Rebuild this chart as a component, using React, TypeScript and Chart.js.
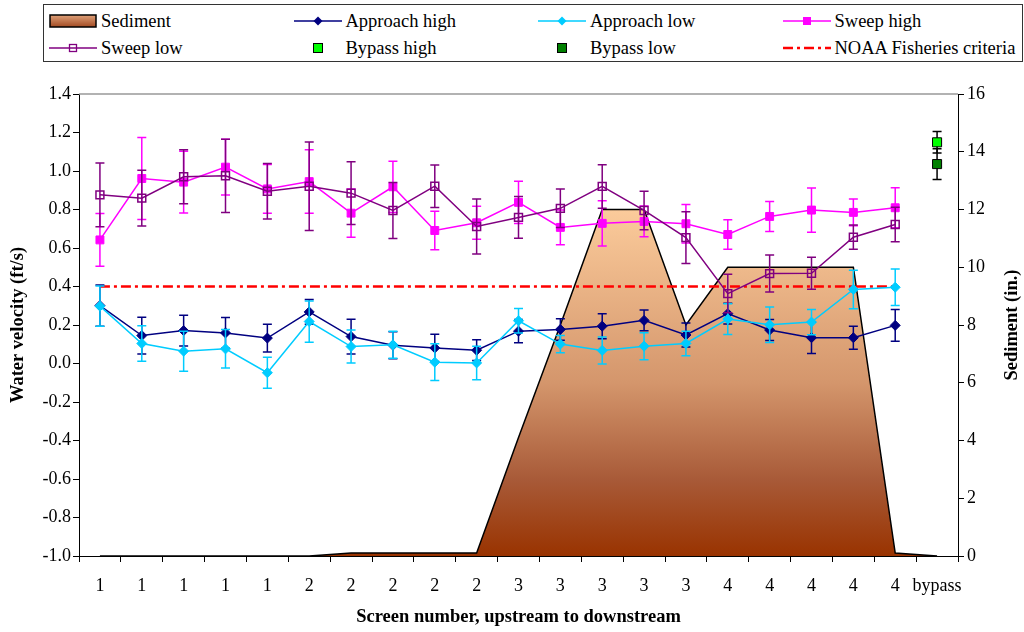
import { useEffect, useRef } from 'react';
import { Chart, registerables } from 'chart.js';

Chart.register(...registerables);

// Screen positions, upstream to downstream
const categories = ['1', '1', '1', '1', '1', '2', '2', '2', '2', '2', '3', '3', '3', '3', '3', '4', '4', '4', '4', '4', 'bypass'];

// Sediment depth (in.), right axis
const sediment = [0, 0, 0, 0, 0, 0, 0.1, 0.1, 0.1, 0.1, 4.1, 8, 12, 12, 8, 10, 10, 10, 10, 0.1, 0];

// Water velocities (ft/s) and their error bar half-widths
const approachHigh = [0.301, 0.145, 0.171, 0.159, 0.132, 0.268, 0.14, 0.095, 0.081, 0.069, 0.168, 0.177, 0.194, 0.224, 0.148, 0.259, 0.174, 0.134, 0.134, 0.198, null];
const approachHighErr = [0.107, 0.095, 0.08, 0.08, 0.072, 0.064, 0.09, 0.07, 0.071, 0.054, 0.06, 0.056, 0.065, 0.054, 0.062, 0.054, 0.054, 0.082, 0.06, 0.082, null];

const approachLow = [0.298, 0.104, 0.064, 0.076, -0.048, 0.218, 0.088, 0.097, 0.007, 0.003, 0.222, 0.101, 0.068, 0.09, 0.104, 0.231, 0.201, 0.215, 0.385, 0.396, null];
const approachLowErr = [0.104, 0.092, 0.104, 0.1, 0.081, 0.107, 0.086, 0.07, 0.095, 0.087, 0.064, 0.045, 0.07, 0.07, 0.064, 0.08, 0.092, 0.066, 0.1, 0.095, null];

const sweepHigh = [0.642, 0.961, 0.942, 1.02, 0.907, 0.945, 0.781, 0.918, 0.691, 0.731, 0.837, 0.707, 0.728, 0.738, 0.726, 0.67, 0.764, 0.797, 0.785, 0.809, null];
const sweepHighErr = [0.137, 0.213, 0.16, 0.145, 0.127, 0.165, 0.125, 0.133, 0.1, 0.086, 0.11, 0.09, 0.117, 0.08, 0.1, 0.077, 0.078, 0.115, 0.07, 0.104, null];

const sweepLow = [0.876, 0.859, 0.97, 0.975, 0.895, 0.921, 0.885, 0.795, 0.921, 0.712, 0.759, 0.806, 0.92, 0.795, 0.654, 0.363, 0.467, 0.469, 0.656, 0.722, null];
const sweepLowErr = [0.165, 0.145, 0.14, 0.19, 0.144, 0.23, 0.163, 0.145, 0.11, 0.143, 0.108, 0.1, 0.113, 0.1, 0.134, 0.1, 0.096, 0.083, 0.063, 0.09, null];

const bypassHigh = 1.149;
const bypassHighErr = 0.056;
const bypassLow = 1.036;
const bypassLowErr = 0.08;

const noaaCriteria = 0.4;

const FONT = '"Liberation Serif", "Times New Roman", serif';

const onlyBypass = (v: number) => categories.map((c) => (c === 'bypass' ? v : null));

const errorBarPlugin = {
  id: 'errorBars',
  beforeDatasetDraw(chart: any, args: any) {
    const ds = chart.data.datasets[args.index];
    if (!ds.errors) return;
    const meta = args.meta;
    const yScale = chart.scales[meta.yAxisID];
    const ctx = chart.ctx;
    ctx.save();
    ctx.strokeStyle = ds.errorColor || ds.borderColor;
    ctx.lineWidth = 1.5;
    ds.data.forEach((v: number | null, i: number) => {
      const e = ds.errors[i];
      if (v == null || e == null) return;
      const x = meta.data[i].x;
      const yt = yScale.getPixelForValue(v + e);
      const yb = yScale.getPixelForValue(v - e);
      ctx.beginPath();
      ctx.moveTo(x, yt);
      ctx.lineTo(x, yb);
      ctx.moveTo(x - 4.5, yt);
      ctx.lineTo(x + 4.5, yt);
      ctx.moveTo(x - 4.5, yb);
      ctx.lineTo(x + 4.5, yb);
      ctx.stroke();
    });
    ctx.restore();
  },
};

const framePlugin = {
  id: 'frame',
  beforeDatasetsDraw(chart: any) {
    const { ctx, chartArea } = chart;
    ctx.save();
    ctx.strokeStyle = '#999';
    ctx.lineWidth = 1.5;
    ctx.beginPath();
    ctx.moveTo(chartArea.left, chartArea.top);
    ctx.lineTo(chartArea.right, chartArea.top);
    ctx.stroke();
    ctx.restore();
  },
  afterDraw(chart: any) {
    const { ctx, chartArea } = chart;
    ctx.save();
    ctx.translate(1012, (chartArea.top + chartArea.bottom) / 2);
    ctx.rotate(-Math.PI / 2);
    ctx.font = `bold 18.5px ${FONT}`;
    ctx.fillStyle = '#000';
    ctx.textAlign = 'center';
    ctx.textBaseline = 'middle';
    ctx.fillText('Sediment (in.)', 0, 0);
    ctx.restore();
  },
};

const sedimentFill = (context: any) => {
  const chart = context.chart;
  const y2 = chart.scales.y2;
  if (!chart.chartArea || !y2) return '#D4966C';
  const top = y2.getPixelForValue(Math.max(...sediment));
  const bottom = y2.getPixelForValue(0);
  const g = chart.ctx.createLinearGradient(0, top, 0, bottom);
  g.addColorStop(0, '#FBCB9B');
  g.addColorStop(0.5, '#D4966C');
  g.addColorStop(0.78, '#A85A38');
  g.addColorStop(1, '#993300');
  return g;
};

type LegendItem = { label: string; kind: string; color?: string; col: number; row: number };

const legendItems: LegendItem[] = [
  { label: 'Sediment', kind: 'area', col: 0, row: 0 },
  { label: 'Approach high', kind: 'diamond', color: '#000080', col: 1, row: 0 },
  { label: 'Approach low', kind: 'diamond', color: '#00CCFF', col: 2, row: 0 },
  { label: 'Sweep high', kind: 'square', color: '#FF00FF', col: 3, row: 0 },
  { label: 'Sweep low', kind: 'open', color: '#800080', col: 0, row: 1 },
  { label: 'Bypass high', kind: 'point', color: '#00FF00', col: 1, row: 1 },
  { label: 'Bypass low', kind: 'point', color: '#008000', col: 2, row: 1 },
  { label: 'NOAA Fisheries criteria', kind: 'dash', color: '#FF0000', col: 3, row: 1 },
];

const Glyph = ({ item }: { item: LegendItem }) => {
  const c = item.color;
  return (
    <svg width={48} height={16} style={{ display: 'block' }}>
      <defs>
        <linearGradient id="sedGrad" x1="0" y1="0" x2="0" y2="1">
          <stop offset="0" stopColor="#E0A27A" />
          <stop offset="1" stopColor="#A24A22" />
        </linearGradient>
      </defs>
      {item.kind === 'area' && <rect x={1} y={2} width={46} height={12} fill="url(#sedGrad)" stroke="#000" strokeWidth={1.5} />}
      {['diamond', 'square', 'open'].includes(item.kind) && <line x1={0} y1={8} x2={48} y2={8} stroke={c} strokeWidth={1.5} />}
      {item.kind === 'diamond' && <polygon points="24,3.5 28.5,8 24,12.5 19.5,8" fill={c} />}
      {item.kind === 'square' && <rect x={20} y={4} width={8} height={8} fill={c} />}
      {item.kind === 'open' && <rect x={20.5} y={4.5} width={7} height={7} fill="none" stroke={c} strokeWidth={1.3} />}
      {item.kind === 'point' && <rect x={19.5} y={3.5} width={9} height={9} fill={c} stroke="#000" strokeWidth={1} />}
      {item.kind === 'dash' && <line x1={0} y1={8} x2={48} y2={8} stroke={c} strokeWidth={2.5} strokeDasharray="10 4 3 4" />}
    </svg>
  );
};

const App = () => {
  const canvasRef = useRef<HTMLCanvasElement | null>(null);
  const chartRef = useRef<Chart | null>(null);

  useEffect(() => {
    if (!canvasRef.current) return;
    if (chartRef.current) chartRef.current.destroy();

    Chart.defaults.font.family = FONT;
    Chart.defaults.color = '#000';

    const seriesLine = (label: string, data: any[], errors: any[], color: string, extra: any) => ({
      type: 'line' as const,
      label,
      data,
      errors,
      borderColor: color,
      backgroundColor: color,
      borderWidth: 1.5,
      pointBackgroundColor: color,
      pointBorderColor: color,
      pointBorderWidth: 1,
      yAxisID: 'y',
      order: 0,
      ...extra,
    });

    const config: any = {
      type: 'line',
      data: {
        labels: categories,
        datasets: [
          {
            label: 'Sediment',
            data: sediment,
            yAxisID: 'y2',
            fill: 'start',
            backgroundColor: sedimentFill,
            borderColor: '#000',
            borderWidth: 1.5,
            pointRadius: 0,
            order: 10,
          },
          {
            label: 'NOAA Fisheries criteria',
            data: categories.map((c) => (c === 'bypass' ? null : noaaCriteria)),
            yAxisID: 'y',
            borderColor: '#FF0000',
            borderWidth: 2.5,
            borderDash: [10, 4, 3, 4],
            pointRadius: 0,
            fill: false,
            order: 5,
          },
          seriesLine('Sweep low', sweepLow, sweepLowErr, '#800080', {
            pointStyle: 'rect',
            pointRadius: 5.6,
            pointBackgroundColor: 'rgba(0,0,0,0)',
            pointBorderWidth: 1.5,
          }),
          seriesLine('Sweep high', sweepHigh, sweepHighErr, '#FF00FF', { pointStyle: 'rect', pointRadius: 5.6 }),
          seriesLine('Approach low', approachLow, approachLowErr, '#00CCFF', { pointStyle: 'rectRot', pointRadius: 5 }),
          seriesLine('Approach high', approachHigh, approachHighErr, '#000080', { pointStyle: 'rectRot', pointRadius: 5 }),
          {
            label: 'Bypass low',
            data: onlyBypass(bypassLow),
            errors: onlyBypass(bypassLowErr),
            errorColor: '#000',
            yAxisID: 'y',
            showLine: false,
            pointStyle: 'rect',
            pointRadius: 6.4,
            pointBackgroundColor: '#008000',
            pointBorderColor: '#000',
            pointBorderWidth: 1,
            order: 0,
          },
          {
            label: 'Bypass high',
            data: onlyBypass(bypassHigh),
            errors: onlyBypass(bypassHighErr),
            errorColor: '#000',
            yAxisID: 'y',
            showLine: false,
            pointStyle: 'rect',
            pointRadius: 6.4,
            pointBackgroundColor: '#00FF00',
            pointBorderColor: '#000',
            pointBorderWidth: 1,
            order: 0,
          },
        ],
      },
      options: {
        responsive: false,
        animation: false,
        events: [],
        layout: { padding: { top: 94, left: 0, right: 0, bottom: 0 } },
        plugins: { legend: { display: false }, tooltip: { enabled: false } },
        elements: { line: { tension: 0 } },
        scales: {
          x: {
            type: 'category',
            offset: true,
            grid: { display: true, drawOnChartArea: false, offset: true, tickLength: 6, color: '#000' },
            border: { display: true, color: '#000', width: 1 },
            ticks: { color: '#000', font: { size: 18 }, padding: 13, autoSkip: false, maxRotation: 0 },
            title: {
              display: true,
              text: 'Screen number, upstream to downstream',
              color: '#000',
              font: { size: 18.5, weight: 'bold' },
              padding: { top: 0, bottom: 4 },
            },
            afterFit: (s: any) => {
              s.height = 76;
            },
          },
          y: {
            position: 'left',
            min: -1,
            max: 1.4,
            grid: { drawOnChartArea: false, tickLength: 6, color: '#000' },
            border: { display: true, color: '#000', width: 1 },
            ticks: {
              stepSize: 0.2,
              color: '#000',
              font: { size: 18 },
              padding: 2,
              callback: (v: any) => {
                const n = Number(v);
                return (Math.abs(n) < 1e-9 ? 0 : n).toFixed(1);
              },
            },
            title: {
              display: true,
              text: 'Water velocity (ft/s)',
              color: '#000',
              font: { size: 18.5, weight: 'bold' },
              padding: { top: 7, bottom: 0 },
            },
            afterFit: (s: any) => {
              s.width = 79;
            },
          },
          y2: {
            position: 'right',
            min: 0,
            max: 16,
            grid: { drawOnChartArea: false, tickLength: 6, color: '#000' },
            border: { display: true, color: '#000', width: 1 },
            ticks: { stepSize: 2, color: '#000', font: { size: 18 }, padding: 3 },
            afterFit: (s: any) => {
              s.width = 66;
            },
          },
        },
      },
      plugins: [framePlugin, errorBarPlugin],
    };

    chartRef.current = new Chart(canvasRef.current, config);

    return () => {
      if (chartRef.current) {
        chartRef.current.destroy();
        chartRef.current = null;
      }
    };
  }, []);

  return (
    <div style={{ position: 'absolute', left: 0, top: 0, width: 1024, height: 632, background: '#fff' }}>
      <canvas ref={canvasRef} width={1024} height={632} style={{ position: 'absolute', left: 0, top: 0 }} />
      <div
        style={{
          position: 'absolute',
          left: 43,
          top: 4,
          width: 978,
          height: 56,
          border: '1px solid #333',
          background: '#fff',
          fontFamily: FONT,
          fontSize: 18.5,
          color: '#000',
        }}
      >
        {legendItems.map((item) => {
          const left = 5 + item.col * 244.5;
          const top = item.row === 0 ? 7 : 34;
          return (
            <div key={item.label} style={{ position: 'absolute', left, top, height: 18, display: 'flex', alignItems: 'center', whiteSpace: 'nowrap' }}>
              <Glyph item={item} />
              <span style={{ marginLeft: 4, lineHeight: '18px' }}>{item.label}</span>
            </div>
          );
        })}
      </div>
    </div>
  );
};

export default App;
